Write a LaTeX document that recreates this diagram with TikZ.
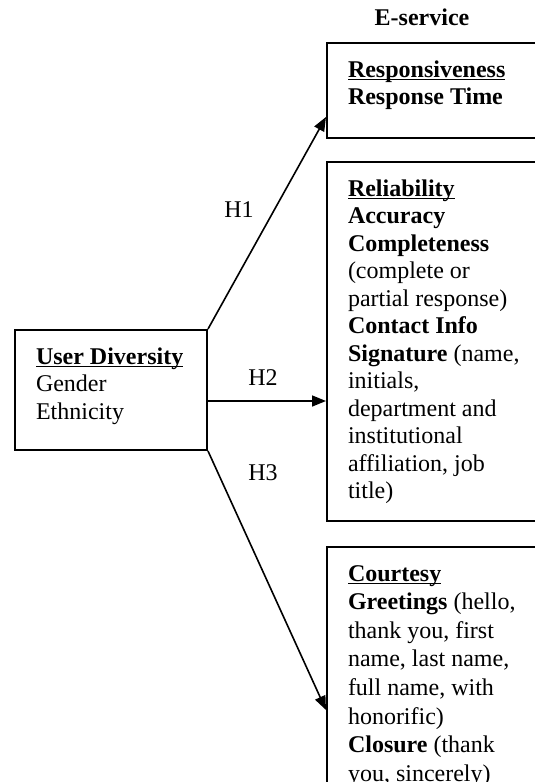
\documentclass[tikz,border=0pt]{standalone}
\usepackage{fontspec}
\setmainfont{Liberation Serif}
\usetikzlibrary{arrows.meta}
\def\boxtext(#1:#2)#3{\parbox[c][#1][t]{#2}{\raggedright\strut #3}}
\def\headline#1{\setbox0\hbox{\textbf{#1}}\rlap{\rule[-1.7pt]{\wd0}{0.9pt}}\box0}

\begin{document}
\begin{tikzpicture}[x=0.5pt, y=-0.5pt,
		font=\fontsize{12pt}{13.75pt}\selectfont,
		dimbox/.style={draw, line width=1pt, anchor=north west, inner xsep=10.5pt, inner ysep=7.4pt},
		hypo/.style={-{Triangle[length=7pt, width=5.5pt]}, line width=0.8pt},
		hlabel/.style={inner sep=0pt}]
			%%%%% START %%%%%
			\useasboundingbox (0, 0) rectangle (535, 782);
			
			\node[inner sep=0pt] (eserv) at (422, 17) {\textbf{E-service}};
			
			\node[dimbox] (resp) at (326, 42) {\boxtext(32.7pt:88.5pt){\headline{Responsiveness}\\ \textbf{Response Time}}};
			\node[dimbox] (rel) at (326, 161) {\boxtext(164.7pt:88.5pt){\headline{Reliability}\\ \textbf{Accuracy}\\ \textbf{Completeness}\\ (complete or\\ partial response)\\ \textbf{Contact Info}\\ \textbf{Signature} (name,\\ initials,\\ department and\\ institutional\\ affiliation, job\\ title)}};
			\node[dimbox, font=\fontsize{12pt}{14.3pt}\selectfont, inner ysep=7pt] (court) at (326, 546) {\boxtext(123pt:88.5pt){\headline{Courtesy}\\ \textbf{Greetings} (hello,\\ thank you, first\\ name, last name,\\ full name, with\\ honorific)\\ \textbf{Closure} (thank\\ you, sincerely)}};
			
			\node[dimbox] (user) at (14, 329) {\boxtext(45.2pt:75pt){\headline{User Diversity}\\ Gender\\ Ethnicity}};
			
			\draw[hypo] (user.north east) -- ([yshift=11pt]resp.south west);
			\draw[hypo] ([yshift=-5.5pt]user.east) coordinate (h2start) -- (h2start -| rel.west);
			\draw[hypo] (user.south east) -- ([yshift=-82pt]court.north west);
			
			\node[hlabel] (h1) at (239, 210) {H1};
			\node[hlabel] (h2) at (263, 378) {H2};
			\node[hlabel] (h3) at (263, 473) {H3};
			%%%%% END %%%%%
\end{tikzpicture}
\end{document}
